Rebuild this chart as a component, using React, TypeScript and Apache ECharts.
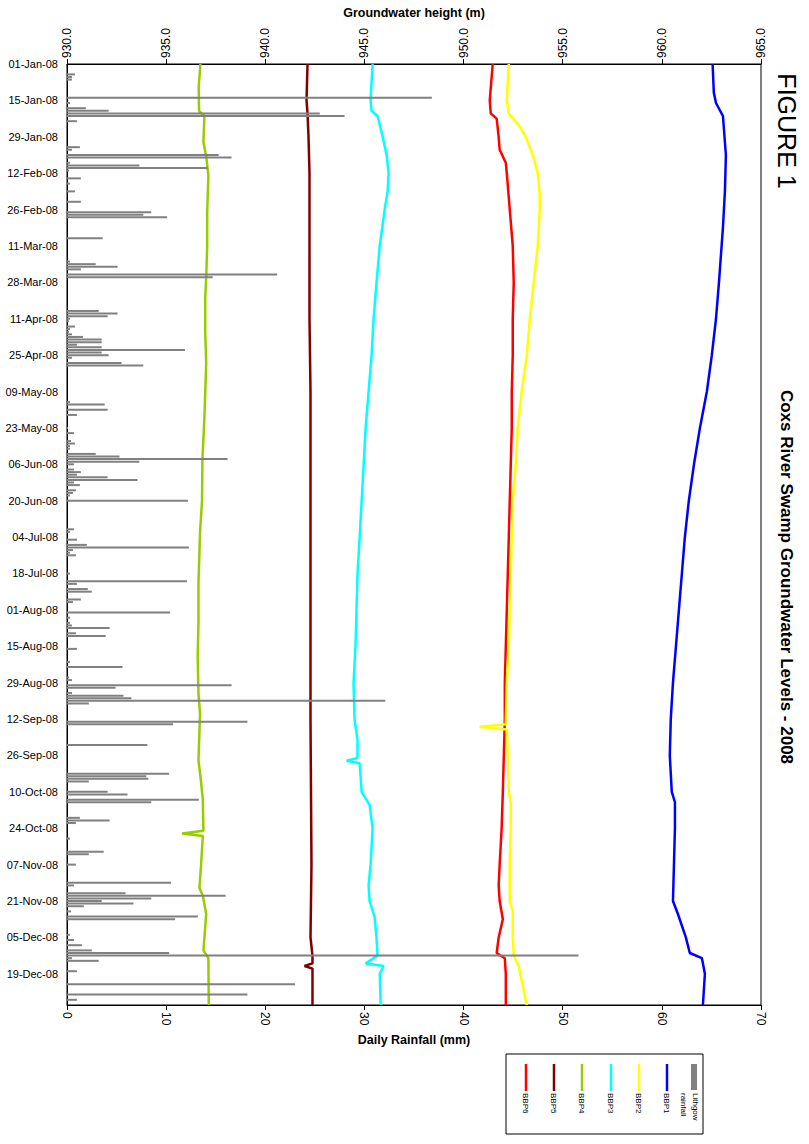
import React, { useEffect, useRef } from "react";
import * as echarts from "echarts";

// ---------- categories (daily records of 2008; no rows for 21–23 Mar) ----------
const MONTHS = ["Jan", "Feb", "Mar", "Apr", "May", "Jun", "Jul", "Aug", "Sep", "Oct", "Nov", "Dec"];
const MISSING_DAYS = ["21-Mar", "22-Mar", "23-Mar"];
const dateCategories: string[] = (() => {
  const out: string[] = [];
  const d = new Date(Date.UTC(2008, 0, 1));
  while (d.getUTCFullYear() === 2008) {
    const s = `${String(d.getUTCDate()).padStart(2, "0")}-${MONTHS[d.getUTCMonth()]}`;
    if (!MISSING_DAYS.includes(s)) out.push(`${s}-08`);
    d.setUTCDate(d.getUTCDate() + 1);
  }
  return out;
})();

// ---------- axes ----------
const HEIGHT_MIN = 930, HEIGHT_MAX = 965, HEIGHT_STEP = 5;
const RAIN_MIN = 0, RAIN_MAX = 70, RAIN_STEP = 10;

// ---------- Lithgow daily rainfall (mm) ----------
const rainfall: [string, number][] = [
  ["05-Jan", 0.8], ["06-Jan", 0.5], ["07-Jan", 0.5], ["14-Jan", 36.8], ["16-Jan", 0.3], ["18-Jan", 1.9], ["19-Jan", 4.2], ["20-Jan", 25.5], ["21-Jan", 28.0], ["23-Jan", 1.0],
  ["02-Feb", 1.3], ["03-Feb", 0.5], ["05-Feb", 15.3], ["06-Feb", 16.6], ["08-Feb", 0.3], ["09-Feb", 7.3], ["10-Feb", 14.2], ["11-Feb", 0.2], ["14-Feb", 1.4], ["16-Feb", 0.3], ["19-Feb", 0.8], ["23-Feb", 1.4], ["27-Feb", 8.5], ["28-Feb", 7.7], ["29-Feb", 10.1],
  ["08-Mar", 3.6], ["17-Mar", 0.3], ["18-Mar", 2.9], ["19-Mar", 5.1], ["20-Mar", 1.4], ["25-Mar", 21.2], ["26-Mar", 14.7],
  ["08-Apr", 3.2], ["09-Apr", 5.1], ["10-Apr", 4.1], ["11-Apr", 0.3], ["12-Apr", 0.2], ["14-Apr", 0.8], ["15-Apr", 0.3], ["16-Apr", 0.2], ["17-Apr", 0.5], ["18-Apr", 1.6], ["19-Apr", 3.5], ["20-Apr", 3.5], ["21-Apr", 1.0], ["22-Apr", 3.5], ["23-Apr", 11.9], ["24-Apr", 3.5], ["25-Apr", 4.2], ["26-Apr", 0.5], ["28-Apr", 5.5], ["29-Apr", 7.7],
  ["13-May", 0.3], ["14-May", 3.8], ["16-May", 4.1], ["18-May", 1.0], ["23-May", 0.1], ["25-May", 0.7], ["28-May", 0.4], ["29-May", 0.8], ["30-May", 0.3], ["31-May", 0.3],
  ["02-Jun", 2.9], ["03-Jun", 5.3], ["04-Jun", 16.2], ["05-Jun", 7.3], ["06-Jun", 0.7], ["08-Jun", 0.7], ["09-Jun", 1.4], ["10-Jun", 1.0], ["11-Jun", 4.1], ["12-Jun", 7.1], ["13-Jun", 0.7], ["14-Jun", 1.3], ["16-Jun", 0.9], ["17-Jun", 0.6], ["18-Jun", 0.3], ["20-Jun", 12.2],
  ["01-Jul", 0.7], ["02-Jul", 0.3], ["05-Jul", 1.0], ["07-Jul", 2.0], ["08-Jul", 12.3], ["09-Jul", 0.6], ["10-Jul", 0.3], ["11-Jul", 0.9], ["18-Jul", 0.3], ["21-Jul", 12.1], ["22-Jul", 1.0], ["24-Jul", 2.1], ["25-Jul", 2.5], ["28-Jul", 1.4], ["29-Jul", 0.6],
  ["02-Aug", 10.4], ["04-Aug", 0.3], ["06-Aug", 0.3], ["07-Aug", 0.5], ["08-Aug", 4.3], ["10-Aug", 0.9], ["11-Aug", 3.9], ["16-Aug", 1.0], ["21-Aug", 0.3], ["23-Aug", 5.6], ["27-Aug", 0.2], ["28-Aug", 0.5], ["30-Aug", 16.6], ["31-Aug", 4.9],
  ["02-Sep", 0.5], ["03-Sep", 5.7], ["04-Sep", 6.5], ["05-Sep", 32.1], ["06-Sep", 2.2], ["13-Sep", 18.2], ["14-Sep", 10.7], ["22-Sep", 8.1],
  ["03-Oct", 10.3], ["04-Oct", 8.0], ["05-Oct", 8.2], ["06-Oct", 2.2], ["10-Oct", 4.1], ["11-Oct", 6.1], ["13-Oct", 13.3], ["14-Oct", 8.5], ["20-Oct", 1.3], ["21-Oct", 4.3], ["22-Oct", 0.9], ["28-Oct", 0.3],
  ["02-Nov", 3.7], ["03-Nov", 2.2], ["07-Nov", 0.9], ["14-Nov", 10.5], ["15-Nov", 0.7], ["18-Nov", 5.9], ["19-Nov", 16.0], ["20-Nov", 8.5], ["21-Nov", 3.5], ["22-Nov", 6.7], ["23-Nov", 1.7], ["25-Nov", 0.4], ["27-Nov", 13.2], ["28-Nov", 10.9],
  ["04-Dec", 0.3], ["06-Dec", 0.7], ["08-Dec", 1.5], ["10-Dec", 2.5], ["11-Dec", 10.3], ["12-Dec", 51.6], ["13-Dec", 0.5], ["14-Dec", 3.2], ["18-Dec", 1.0], ["23-Dec", 23.0], ["27-Dec", 18.2], ["29-Dec", 1.0],
];

// ---------- groundwater heights (m) ----------
const bbp1: [string, number][] = [
  ["01-Jan", 962.56], ["12-Jan", 962.62], ["16-Jan", 962.73], ["21-Jan", 963.08], ["05-Feb", 963.23], ["19-Feb", 963.18], ["04-Mar", 963.08],
  ["28-Mar", 962.88], ["11-Apr", 962.73], ["25-Apr", 962.52], ["09-May", 962.27], ["23-May", 961.92], ["06-Jun", 961.62], ["20-Jun", 961.36],
  ["04-Jul", 961.16], ["18-Jul", 961.01], ["01-Aug", 960.86], ["15-Aug", 960.71], ["29-Aug", 960.56], ["12-Sep", 960.45], ["26-Sep", 960.40],
  ["10-Oct", 960.50], ["14-Oct", 960.66], ["24-Oct", 960.66], ["07-Nov", 960.61], ["21-Nov", 960.56], ["26-Nov", 960.81], ["05-Dec", 961.21],
  ["11-Dec", 961.41], ["13-Dec", 962.02], ["19-Dec", 962.17], ["31-Dec", 962.07],
];
const bbp2: [string, number][] = [
  ["01-Jan", 952.28], ["15-Jan", 952.18], ["20-Jan", 952.28], ["25-Jan", 952.83], ["29-Jan", 953.13], ["05-Feb", 953.49], ["12-Feb", 953.74],
  ["20-Feb", 953.84], ["26-Feb", 953.84], ["11-Mar", 953.74], ["28-Mar", 953.54], ["11-Apr", 953.34], ["25-Apr", 953.19], ["09-May", 952.93],
  ["23-May", 952.73], ["06-Jun", 952.63], ["20-Jun", 952.48], ["04-Jul", 952.43], ["18-Jul", 952.38], ["01-Aug", 952.33], ["15-Aug", 952.28],
  ["29-Aug", 952.18], ["14-Sep", 952.13], ["15-Sep", 950.81], ["16-Sep", 952.18], ["26-Sep", 952.23], ["10-Oct", 952.28], ["14-Oct", 952.38],
  ["24-Oct", 952.38], ["07-Nov", 952.33], ["21-Nov", 952.33], ["25-Nov", 952.48], ["05-Dec", 952.48], ["12-Dec", 952.53], ["16-Dec", 952.78],
  ["31-Dec", 953.19],
];
const bbp3: [string, number][] = [
  ["01-Jan", 945.41], ["15-Jan", 945.31], ["19-Jan", 945.36], ["21-Jan", 945.66], ["29-Jan", 945.92], ["05-Feb", 946.12], ["12-Feb", 946.22],
  ["19-Feb", 946.17], ["26-Feb", 946.02], ["11-Mar", 945.77], ["28-Mar", 945.61], ["11-Apr", 945.46], ["25-Apr", 945.36], ["09-May", 945.21],
  ["23-May", 945.06], ["06-Jun", 944.96], ["20-Jun", 944.86], ["04-Jul", 944.76], ["18-Jul", 944.65], ["01-Aug", 944.60], ["15-Aug", 944.55],
  ["29-Aug", 944.45], ["12-Sep", 944.50], ["20-Sep", 944.65], ["27-Sep", 944.65], ["28-Sep", 944.10], ["29-Sep", 944.76], ["10-Oct", 944.86],
  ["15-Oct", 945.26], ["24-Oct", 945.41], ["07-Nov", 945.31], ["15-Nov", 945.21], ["21-Nov", 945.26], ["27-Nov", 945.51], ["05-Dec", 945.61],
  ["12-Dec", 945.66], ["15-Dec", 945.06], ["16-Dec", 945.97], ["19-Dec", 945.77], ["31-Dec", 945.82],
];
const bbp4: [string, number][] = [
  ["01-Jan", 936.73], ["10-Jan", 936.64], ["19-Jan", 936.66], ["21-Jan", 936.93], ["31-Jan", 936.88], ["06-Feb", 937.03], ["13-Feb", 937.13],
  ["27-Feb", 937.07], ["11-Mar", 937.07], ["26-Mar", 937.02], ["03-Apr", 936.97], ["16-Apr", 936.97], ["28-Apr", 937.02], ["19-May", 936.93],
  ["04-Jun", 936.83], ["20-Jun", 936.81], ["02-Jul", 936.71], ["22-Jul", 936.63], ["06-Aug", 936.63], ["19-Aug", 936.59], ["02-Sep", 936.63],
  ["10-Sep", 936.71], ["28-Sep", 936.63], ["04-Oct", 936.73], ["13-Oct", 936.85], ["25-Oct", 936.88], ["26-Oct", 935.80], ["27-Oct", 936.85],
  ["06-Nov", 936.77], ["16-Nov", 936.68], ["19-Nov", 936.85], ["26-Nov", 937.02], ["10-Dec", 936.88], ["13-Dec", 937.13], ["31-Dec", 937.15],
];
const bbp5: [string, number][] = [
  ["01-Jan", 942.13], ["15-Jan", 942.08], ["20-Jan", 942.13], ["29-Jan", 942.18], ["12-Feb", 942.23], ["11-Apr", 942.23], ["09-May", 942.28],
  ["12-Sep", 942.28], ["07-Nov", 942.33], ["05-Dec", 942.28], ["12-Dec", 942.38], ["15-Dec", 942.38], ["16-Dec", 941.98], ["17-Dec", 942.38],
  ["31-Dec", 942.38],
];
const bbp6: [string, number][] = [
  ["01-Jan", 951.47], ["15-Jan", 951.32], ["20-Jan", 951.37], ["22-Jan", 951.67], ["29-Jan", 951.77], ["03-Feb", 951.82], ["08-Feb", 952.13],
  ["12-Feb", 952.18], ["26-Feb", 952.33], ["11-Mar", 952.48], ["28-Mar", 952.53], ["11-Apr", 952.48], ["25-Apr", 952.48], ["09-May", 952.43],
  ["23-May", 952.43], ["06-Jun", 952.38], ["20-Jun", 952.33], ["04-Jul", 952.28], ["18-Jul", 952.23], ["01-Aug", 952.18], ["15-Aug", 952.13],
  ["29-Aug", 952.08], ["12-Sep", 952.08], ["26-Sep", 952.03], ["10-Oct", 951.98], ["24-Oct", 951.92], ["07-Nov", 951.82], ["15-Nov", 951.77],
  ["21-Nov", 951.82], ["28-Nov", 951.98], ["05-Dec", 951.77], ["11-Dec", 951.67], ["13-Dec", 952.08], ["19-Dec", 952.13], ["31-Dec", 952.13],
];

const lineSeries: { name: string; data: [string, number][] }[] = [
  { name: "BBP6", data: bbp6 },
  { name: "BBP5", data: bbp5 },
  { name: "BBP4", data: bbp4 },
  { name: "BBP3", data: bbp3 },
  { name: "BBP2", data: bbp2 },
  { name: "BBP1", data: bbp1 },
];
const RAIN_NAME = "Lithgow\nrainfall";

// ---------- styles ----------
const COLORS: Record<string, string> = {
  BBP1: "#0000FF", BBP2: "#FFFF00", BBP3: "#00FFFF", BBP4: "#99CC00", BBP5: "#800000", BBP6: "#FF0000",
};
const RAIN_COLOR = "#808080";
const FONT = "'Liberation Sans', Arial, Helvetica, sans-serif";

const catIndex = (d: string) => dateCategories.indexOf(`${d}-08`);

function buildOption(): any {
  const rainArr: number[] = dateCategories.map(() => 0);
  rainfall.forEach(([d, v]) => {
    const i = catIndex(d);
    if (i >= 0) rainArr[i] = v;
  });

  const series: any[] = lineSeries.map((s) => ({
    name: s.name,
    type: "line",
    xAxisIndex: 0,
    yAxisIndex: 0,
    showSymbol: false,
    symbol: "none",
    z: 2,
    lineStyle: { color: COLORS[s.name], width: 2.5 },
    itemStyle: { color: COLORS[s.name] },
    data: s.data.map(([d, v]) => [v, catIndex(d)]),
  }));
  series.push({
    name: "Lithgow rainfall",
    type: "bar",
    xAxisIndex: 1,
    yAxisIndex: 0,
    barWidth: 2,
    z: 3,
    itemStyle: { color: RAIN_COLOR },
    data: rainArr,
  });

  // legend built from graphic elements (rotated like the rest of the figure)
  const legendX = [526, 554, 582, 611, 639, 667];
  const graphic: any[] = [
    {
      type: "text", x: 787, y: 131, rotation: -Math.PI / 2,
      style: { text: "FIGURE 1", font: `25px ${FONT}`, fill: "#000", textAlign: "center", textVerticalAlign: "middle" },
    },
    {
      type: "text", x: 786, y: 577, rotation: -Math.PI / 2,
      style: { text: "Coxs River Swamp Groundwater Levels - 2008", font: `bold 17px ${FONT}`, fill: "#000", textAlign: "center", textVerticalAlign: "middle" },
    },
    {
      type: "rect", shape: { x: 506, y: 1054, width: 197, height: 80 },
      style: { fill: "#fff", stroke: "#000", lineWidth: 1 },
    },
    { type: "rect", shape: { x: 691, y: 1064, width: 6, height: 26 }, style: { fill: RAIN_COLOR } },
    {
      type: "text", x: 689, y: 1093, rotation: -Math.PI / 2,
      style: { text: RAIN_NAME, font: `8px ${FONT}`, fill: "#000", textAlign: "left", textVerticalAlign: "middle", lineHeight: 12 },
    },
  ];
  lineSeries.forEach((s, i) => {
    const x = legendX[i];
    graphic.push({
      type: "line", shape: { x1: x, y1: 1064, x2: x, y2: 1091 },
      style: { stroke: COLORS[s.name], lineWidth: 2.5 },
    });
    graphic.push({
      type: "text", x: x - 1, y: 1093, rotation: -Math.PI / 2,
      style: { text: s.name, font: `8px ${FONT}`, fill: "#000", textAlign: "left", textVerticalAlign: "middle" },
    });
  });

  return {
    animation: false,
    backgroundColor: "#fff",
    textStyle: { fontFamily: FONT },
    grid: { left: 67, top: 64, width: 694, height: 941, show: true, borderColor: "#000", borderWidth: 1, backgroundColor: "transparent" },
    xAxis: [
      {
        type: "value", position: "top", min: HEIGHT_MIN, max: HEIGHT_MAX, interval: HEIGHT_STEP,
        name: "Groundwater height (m)", nameLocation: "middle", nameGap: 45,
        nameTextStyle: { fontWeight: "bold", fontSize: 12.5, color: "#000", fontFamily: FONT },
        axisLine: { show: true, lineStyle: { color: "#000", width: 1 } },
        axisTick: { show: true, length: 5, lineStyle: { color: "#000" } },
        axisLabel: { rotate: -90, fontSize: 12, color: "#000", margin: 6, fontFamily: FONT, formatter: (v: number) => v.toFixed(1) },
        splitLine: { show: false },
      },
      {
        type: "value", position: "bottom", min: RAIN_MIN, max: RAIN_MAX, interval: RAIN_STEP,
        name: "Daily Rainfall (mm)", nameLocation: "middle", nameGap: 25,
        nameTextStyle: { fontWeight: "bold", fontSize: 12.5, color: "#000", fontFamily: FONT },
        axisLine: { show: true, lineStyle: { color: "#000", width: 1 } },
        axisTick: { show: true, length: 5, lineStyle: { color: "#000" } },
        axisLabel: { rotate: -90, fontSize: 12, color: "#000", margin: 7, fontFamily: FONT },
        splitLine: { show: false },
      },
    ],
    yAxis: {
      type: "category", inverse: true, boundaryGap: false, data: dateCategories,
      axisLine: { show: true, lineStyle: { color: "#000", width: 1 } },
      axisTick: { show: false },
      axisLabel: { interval: 13, fontSize: 11, color: "#000", margin: 9, fontFamily: FONT },
      splitLine: { show: false },
    },
    series,
    graphic,
  };
}

export default function App() {
  const ref = useRef<HTMLDivElement>(null);
  useEffect(() => {
    if (!ref.current) return;
    const chart = echarts.init(ref.current, undefined, { renderer: "svg" });
    chart.setOption(buildOption());
    return () => chart.dispose();
  }, []);
  return (
    <div
      ref={ref}
      style={{ position: "absolute", left: 0, top: 0, width: 809, height: 1144, background: "#fff" }}
    />
  );
}
